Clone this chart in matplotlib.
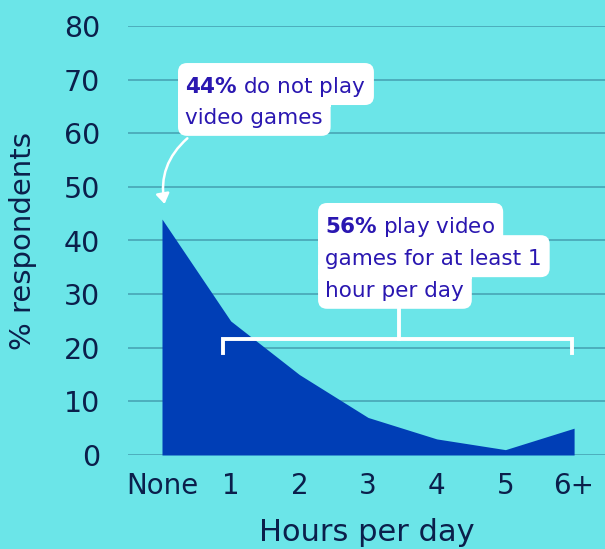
import numpy as np
import matplotlib
matplotlib.use('Agg')
import matplotlib.pyplot as plt
from matplotlib.patches import FancyBboxPatch, Rectangle
from matplotlib.transforms import IdentityTransform

# data
hours = ['None', '1', '2', '3', '4', '5', '6+']
pctRespondents = [44, 25, 15, 7, 3, 1, 5]
yTicks = [0, 10, 20, 30, 40, 50, 60, 70, 80]

bgColor = '#6be5e8'
fillColor = '#003eb6'
gridColor = '#4aaab9'
textColor = '#0b1f4b'
noteColor = '#2a17b1'

plt.rcParams['font.family'] = ['DejaVu Sans']
plt.rcParams['mathtext.fontset'] = 'dejavusans'

fig = plt.figure(figsize=(6.05, 5.49), dpi=100, facecolor=bgColor)
ax = fig.add_axes([128 / 605, 94 / 549, 477 / 605, 429 / 549])
ax.set_facecolor(bgColor)

x = np.arange(len(hours))
ax.fill_between(x, pctRespondents, 0, color=fillColor, lw=0, zorder=2)

ax.set_xlim(-0.495, 6.45)
ax.set_ylim(0, 80)
ax.set_yticks(yTicks)
ax.set_xticks(x)
ax.set_xticklabels(hours)
ax.grid(axis='y', color=gridColor, lw=1.3, zorder=1)
ax.set_axisbelow(True)
for s in ax.spines.values():
    s.set_visible(False)
ax.tick_params(axis='y', length=0, pad=20, labelsize=20.5, labelcolor=textColor)
ax.tick_params(axis='x', length=0, pad=12, labelsize=20, labelcolor=textColor)
ax.set_xlabel('Hours per day', fontsize=22, color=textColor, labelpad=13)
ax.set_ylabel('% respondents', fontsize=21, color=textColor, labelpad=19)


def callout(x0, ys, lines):
    # text lines, then a white rounded box behind each line (pixel padding)
    texts = [ax.text(x0, yy, line, fontsize=15.5, color=noteColor,
                     va='baseline', ha='left', zorder=6) for line, yy in zip(lines, ys)]
    fig.canvas.draw()
    r = fig.canvas.get_renderer()
    exts = [t.get_window_extent(r) for t in texts]
    left = exts[0].x0 - 7
    boxes = []
    for e, yy in zip(exts, ys):
        base = ax.transData.transform((x0, yy))[1]
        right = e.x1 + 8
        top = base + 30
        bot = base - 12
        boxes.append((right, top, bot))
        ax.add_patch(FancyBboxPatch((left, bot), right - left, top - bot,
                                    boxstyle='round,pad=0,rounding_size=9',
                                    fc='white', ec='none', transform=IdentityTransform(),
                                    clip_on=False, zorder=5))
    # fill the notches between neighbouring lines
    for (r1, t1, b1), (r2, t2, b2) in zip(boxes[:-1], boxes[1:]):
        ax.add_patch(Rectangle((left, b1 - 2), min(r1, r2) - left, t2 - b1 + 4,
                               fc='white', ec='none', transform=IdentityTransform(),
                               clip_on=False, zorder=5))


callout(0.335, [67.5, 61.75], [r'$\mathbf{44\%}$ do not play', 'video games'])
callout(2.374, [41.4, 35.4, 29.5],
        [r'$\mathbf{56\%}$ play video', 'games for at least 1', 'hour per day'])

# arrow from first callout to the None point
ax.annotate('', xy=(0.045, 46.3), xytext=(0.40, 59.4),
            arrowprops=dict(arrowstyle='-|>,head_length=0.6,head_width=0.4',
                            color='white', lw=1.8, connectionstyle='arc3,rad=0.3'),
            zorder=4)

# bracket over hours 1..6+
ax.plot([0.888, 0.888, 5.97, 5.97], [19.0, 21.6, 21.6, 19.0], color='white',
        lw=2.8, solid_joinstyle='miter', zorder=4)
ax.plot([3.45, 3.45], [21.6, 27.8], color='white', lw=2.8, zorder=4)

fig.savefig('out.png', dpi=100, facecolor=bgColor)
